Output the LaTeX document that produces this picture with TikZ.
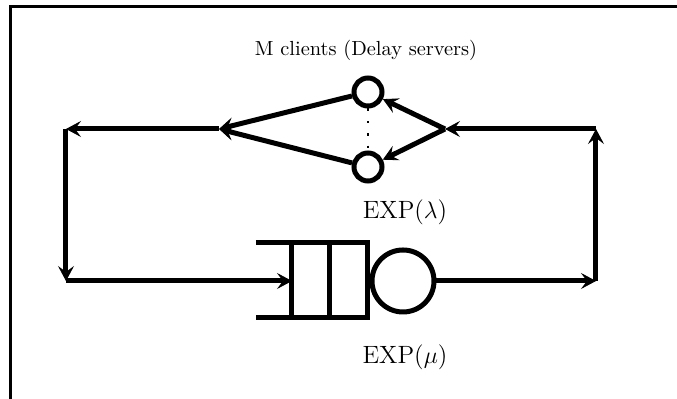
\documentclass[tikz,border=0pt]{standalone}
\usepackage{tikz}
\usetikzlibrary{calc,shapes,positioning}
\usetikzlibrary{arrows.meta}
\tikzset{>={Stealth[length=7.5pt,width=8pt,inset=3pt,line width=0.4pt]}}

\begin{document}
\begin{tikzpicture}[x=0.5pt,y=-0.5pt]
          \tikzstyle{dnode} = [line width=2.5pt, draw, circle, inner sep = 0pt, minimum size = 14pt]
          \tikzstyle{qnode} = [line width=2.5pt, draw, circle, inner sep = 0pt, minimum size = 31pt]
          \tikzstyle{flow} = [->, line width=2.5pt]
          \useasboundingbox (0,0) rectangle (677,399);
          \draw[line width=1.5pt] (11,399) -- (11,7) -- (677,7);

          % delay servers
          \node (title) at (366,50) {\fontsize{10.2}{13}\selectfont M clients (Delay servers)};
          \node[dnode] (c1) at (368,92) {};
          \node[dnode] (c2) at (368,167) {};
          \node (lam) at (405,212) {\fontsize{12.5}{15}\selectfont EXP($\lambda$)};
          \draw[line width=1pt, dash pattern=on 1.2pt off 5pt] (c1) -- (c2);

          % queue and server
          \node[qnode] (srv) at (403,281) {};
          \node (mu) at (405,357) {\fontsize{12.5}{15}\selectfont EXP($\mu$)};
          \draw[line width=2.5pt] (256,243) -- (368,243) -- (368,318) -- (256,318);
          \draw[line width=2.5pt] (292,243) -- (292,318);
          \draw[line width=2.5pt] (330,243) -- (330,318);

          \coordinate (fork) at (445,129);
          \coordinate (join) at (219,129);
          \coordinate (tl) at (66,129);
          \coordinate (bl) at (66,281);
          \coordinate (qin) at (292,281);
          \coordinate (br) at (596,281);
          \coordinate (tr) at (596,129);

          \draw[flow] (tr) to (fork);
          \draw[flow] (fork) to (c1);
          \draw[flow] (fork) to (c2);
          \draw[flow] (c1) to (join);
          \draw[flow] (c2) to (join);
          \draw[flow] (join) to (tl);
          \draw[flow] (tl) to (bl);
          \draw[flow] (bl) to (qin);
          \draw[flow] (srv) to (br);
          \draw[flow] (br) to (tr);
        \end{tikzpicture}
\end{document}
